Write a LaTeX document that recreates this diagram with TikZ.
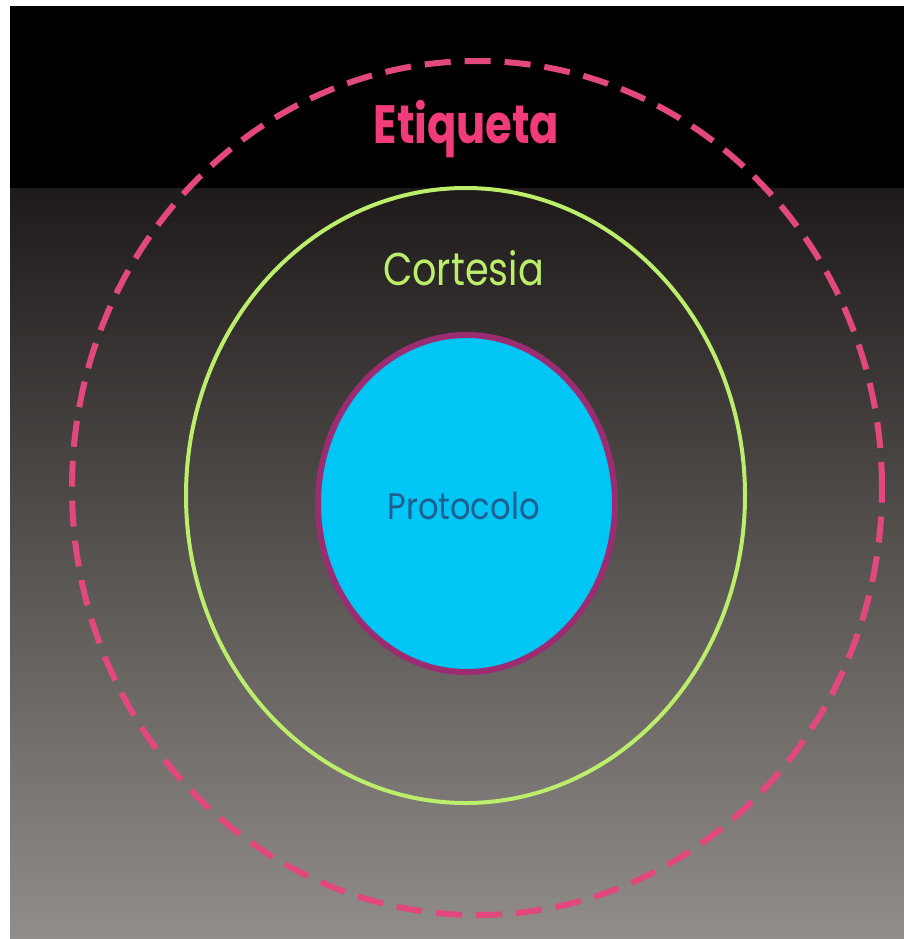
\documentclass[tikz,border=0pt]{standalone}
\usepackage{fontspec}
\setmainfont{Poppins}
\usepackage{graphicx}
\usetikzlibrary{shapes.geometric}
\definecolor{etiq}{HTML}{E2487E}
\definecolor{etiqtext}{HTML}{F23C7A}
\definecolor{cort}{HTML}{BCEE6C}
\definecolor{proto}{HTML}{00C6F6}
\definecolor{protoedge}{HTML}{9C2C72}
\definecolor{prototext}{HTML}{1F5F90}
\definecolor{bgtop}{HTML}{1E1A19}
\definecolor{bgmid}{HTML}{6A6562}
\definecolor{bgbot}{HTML}{918D8A}

\tikzset{
  ring/.style={ellipse, inner sep=0pt, outer sep=0pt},
  ringlabel/.style={anchor=base, inner sep=0pt},
}

\begin{document}
\begin{tikzpicture}[x=1pt,y=-1pt]
  \useasboundingbox (0,0) rectangle (904,939);
  % background
  \fill[white] (0,0) rectangle (904,939);
  \shade[top color=bgtop, middle color=bgmid, bottom color=bgbot] (10,186) rectangle (904,939);
  \fill[black] (10,6) rectangle (904,188);

  % rings
  \node[ring, draw=etiq, line width=6pt, dash pattern=on 26pt off 14pt,
        minimum width=810pt, minimum height=854pt] (etiqueta) at (477,488) {};
  \node[ring, draw=cort, line width=4pt,
        minimum width=559pt, minimum height=615pt] (cortesia) at (465.5,495.5) {};
  \node[ring, draw=protoedge, fill=proto, line width=6pt,
        minimum width=297pt, minimum height=337pt] (protocolo) at (466.5,503.5) {};

  % labels
  \node[ringlabel, text=etiqtext, font=\fontsize{54}{60}\selectfont\bfseries] (etiqlabel) at (466.5,143) {\scalebox{0.8}[1]{Etiqueta}};
  \node[ringlabel, text=cort, font=\fontsize{46}{52}\selectfont] (cortlabel) at (463.5,285) {\scalebox{0.83}[1]{Cortesia}};
  \node[ringlabel, text=prototext, font=\fontsize{37}{42}\selectfont] (protolabel) at (463.5,519) {\scalebox{0.87}[1]{Protocolo}};
\end{tikzpicture}
\end{document}
